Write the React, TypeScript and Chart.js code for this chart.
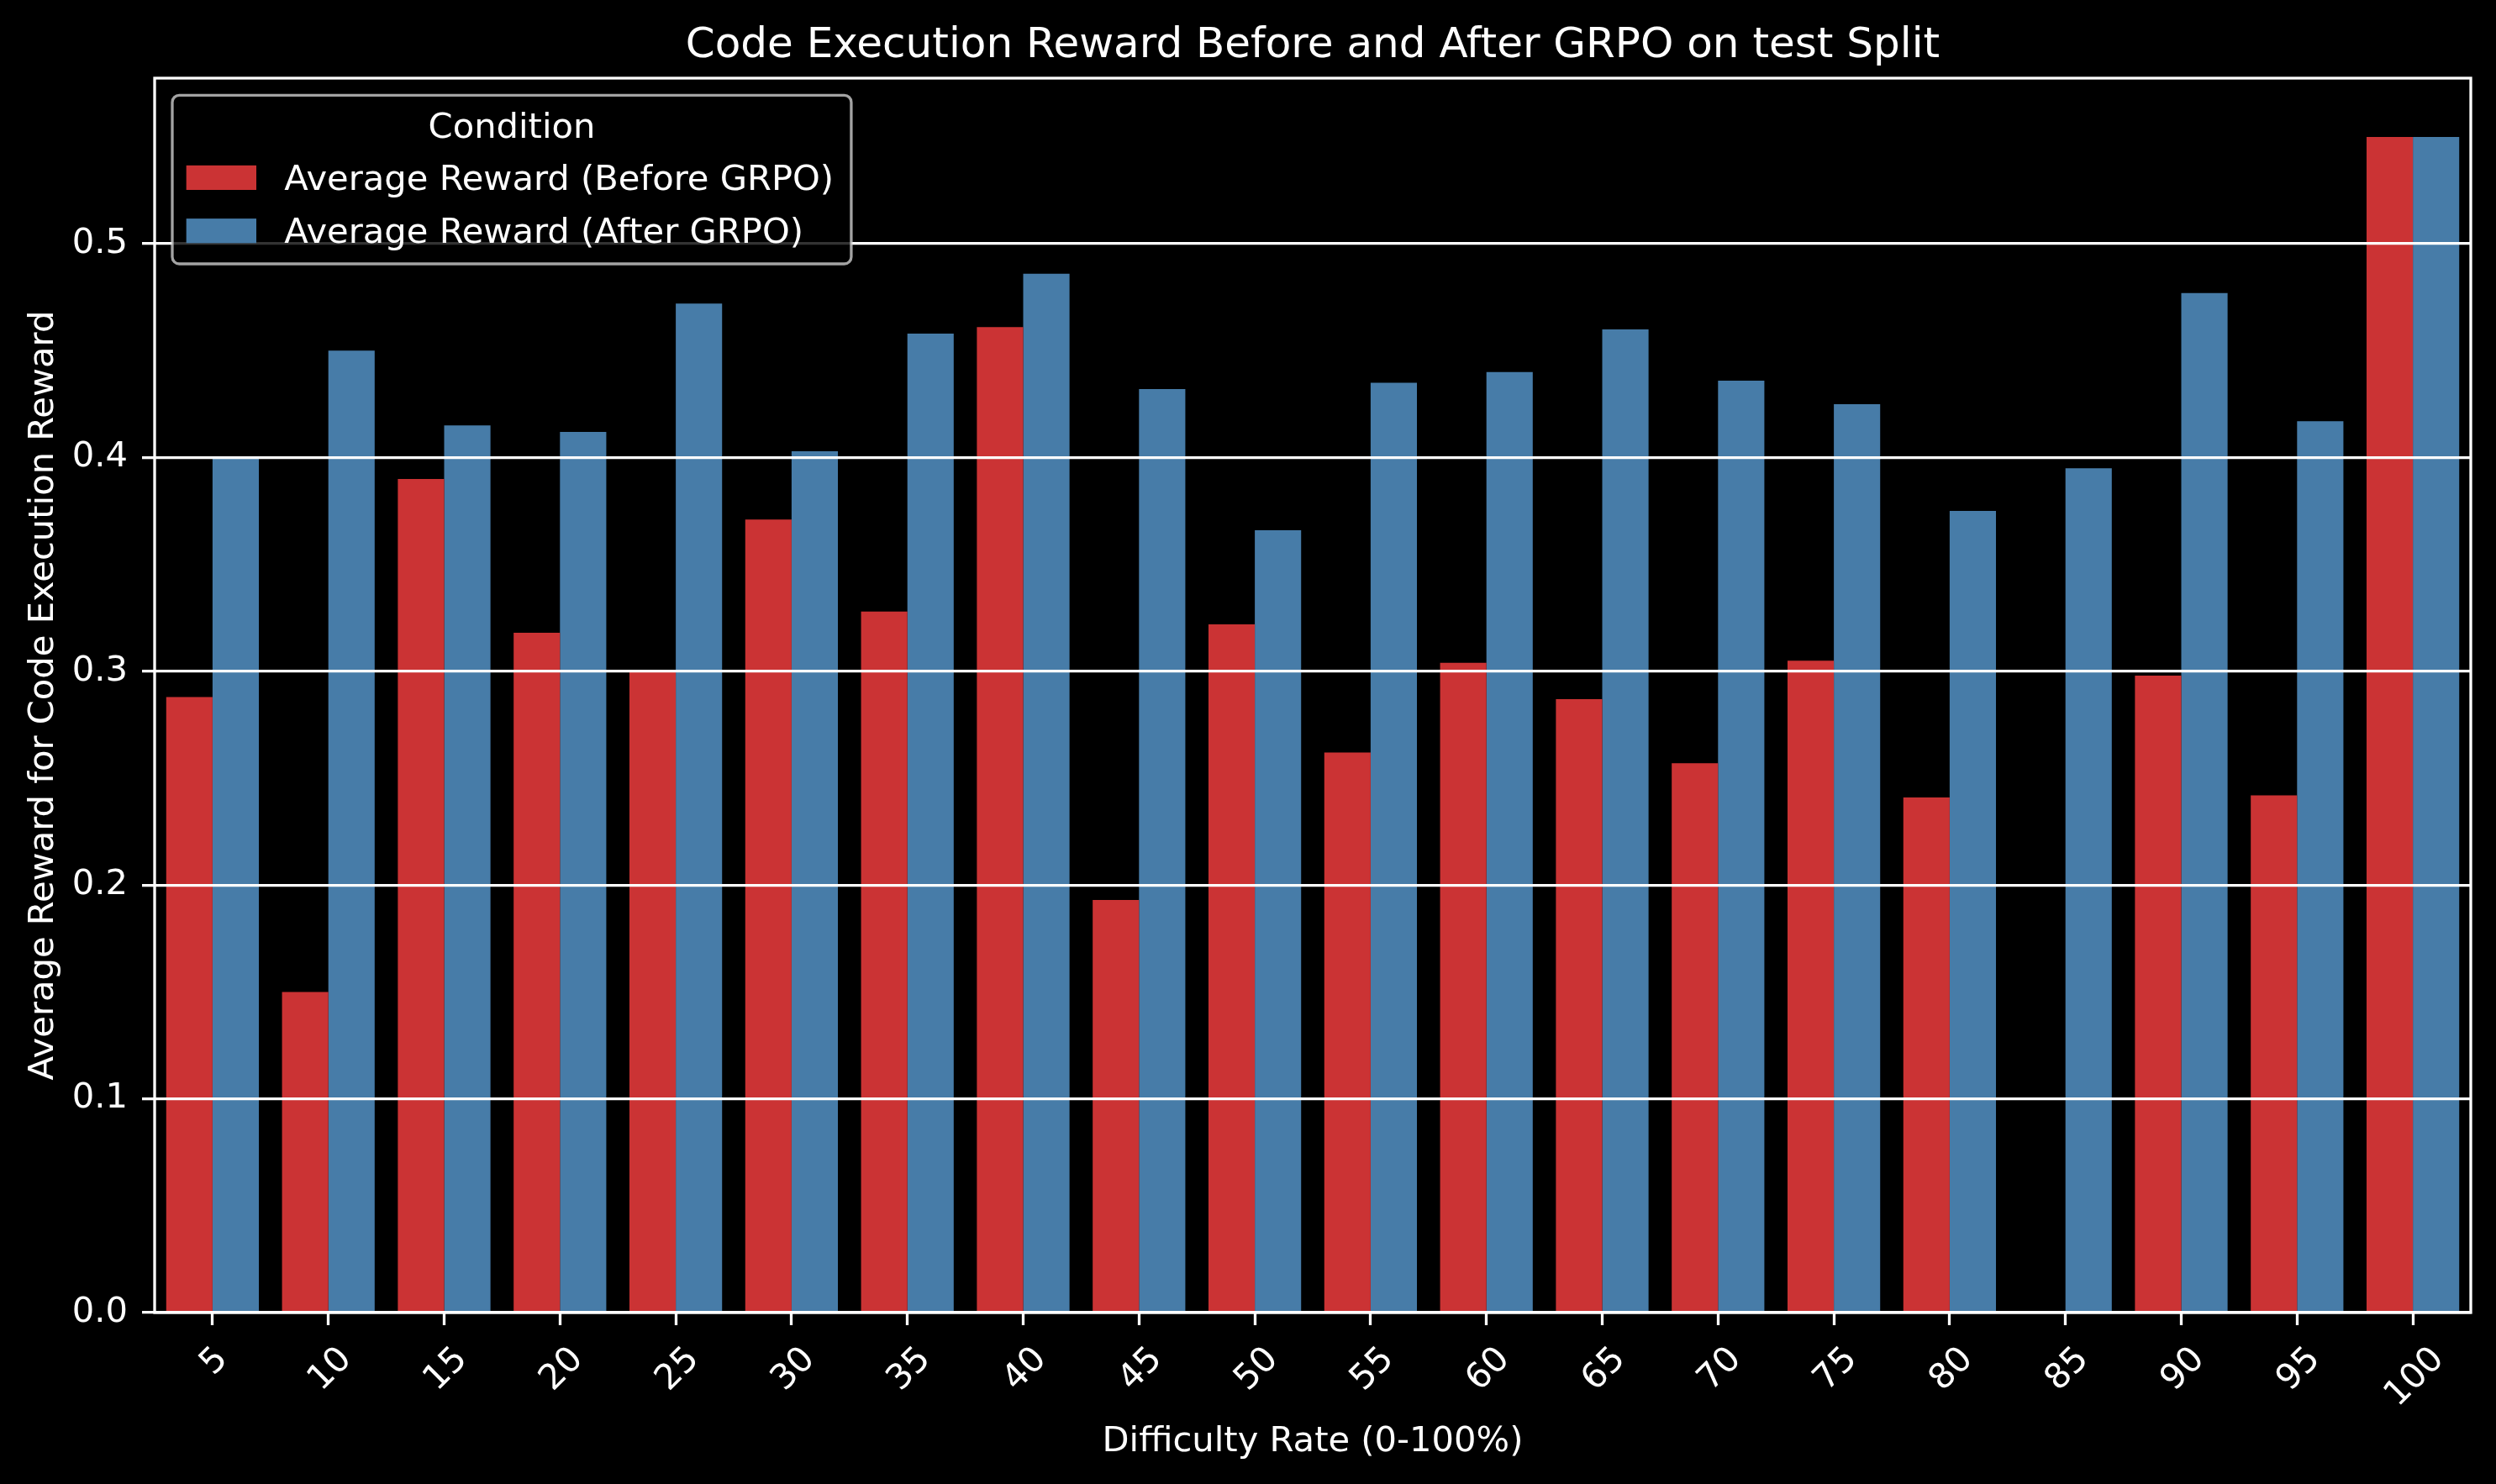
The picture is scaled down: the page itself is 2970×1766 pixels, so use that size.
import React, { useEffect, useRef } from 'react';
import { Chart, registerables } from 'chart.js';

Chart.register(...registerables);

// ---------- data ----------
const categories = ['5', '10', '15', '20', '25', '30', '35', '40', '45', '50', '55', '60', '65', '70', '75', '80', '85', '90', '95', '100'];
const beforeGRPO = [0.288, 0.150, 0.390, 0.318, 0.300, 0.371, 0.328, 0.461, 0.193, 0.322, 0.262, 0.304, 0.287, 0.257, 0.305, 0.241, null, 0.298, 0.242, 0.550];
const afterGRPO = [0.400, 0.450, 0.415, 0.412, 0.472, 0.403, 0.458, 0.486, 0.432, 0.366, 0.435, 0.440, 0.460, 0.436, 0.425, 0.375, 0.395, 0.477, 0.417, 0.550];
const yTicks = [0, 0.1, 0.2, 0.3, 0.4, 0.5];
const seriesNames = ['Average Reward (Before GRPO)', 'Average Reward (After GRPO)'];
const seriesColors = ['#cb3334', '#477ca8'];
const chartTitle = 'Code Execution Reward Before and After GRPO on test Split';
const xTitle = 'Difficulty Rate (0-100%)';
const yTitle = 'Average Reward for Code Execution Reward';
const legendTitle = 'Condition';

// ---------- style ----------
const FAMILY = '"DejaVu Sans", "Liberation Sans", sans-serif';
const FS = 41.67;
const TITLE_FS = 50;
const LW = 3.3;
const TICK_LEN = 15;
const W = 2970;
const H = 1766;

const decorPlugin = {
  id: 'decor',
  beforeDraw(chart: any) {
    const ctx = chart.ctx;
    ctx.save();
    ctx.fillStyle = '#000';
    ctx.fillRect(0, 0, chart.width, chart.height);
    ctx.restore();
  },
  afterDraw(chart: any) {
    const ctx = chart.ctx as CanvasRenderingContext2D;
    const ca = chart.chartArea;
    const xs = chart.scales.x;
    ctx.save();

    // spines
    ctx.strokeStyle = '#fff';
    ctx.lineWidth = LW;
    ctx.strokeRect(ca.left, ca.top, ca.right - ca.left, ca.bottom - ca.top);

    // x tick labels, rotated 45 degrees, centred on the tick (matplotlib style)
    ctx.fillStyle = '#fff';
    ctx.font = `${FS}px ${FAMILY}`;
    const tickEnd = ca.bottom + TICK_LEN + 14.6;
    categories.forEach((lab, i) => {
      const x = xs.getPixelForTick(i);
      const w = ctx.measureText(lab).width;
      const h = FS * 1.164;
      const cy = tickEnd + (w + h) / (2 * Math.SQRT2);
      ctx.save();
      ctx.translate(x, cy);
      ctx.rotate(-Math.PI / 4);
      ctx.textAlign = 'center';
      ctx.textBaseline = 'alphabetic';
      ctx.fillText(lab, 0, 0.35 * FS);
      ctx.restore();
    });

    const cx = (ca.left + ca.right) / 2;
    const cyMid = (ca.top + ca.bottom) / 2;

    // title
    ctx.textAlign = 'center';
    ctx.textBaseline = 'alphabetic';
    ctx.font = `${TITLE_FS}px ${FAMILY}`;
    ctx.fillText(chartTitle, cx, ca.top - 24.7);

    // x title
    ctx.font = `${FS}px ${FAMILY}`;
    ctx.fillText(xTitle, cx, ca.bottom + 164.7);

    // y title
    ctx.save();
    ctx.translate(63.3, cyMid);
    ctx.rotate(-Math.PI / 2);
    ctx.fillText(yTitle, 0, 0);
    ctx.restore();

    // legend
    const ds = chart.data.datasets;
    ctx.font = `${FS}px ${FAMILY}`;
    let maxW = 0;
    ds.forEach((d: any) => { maxW = Math.max(maxW, ctx.measureText(d.label).width); });
    const bx = ca.left + 21;
    const by = ca.top + 20.3;
    const bw = 0.4 * FS + 2 * FS + 0.8 * FS + maxW + 0.5 * FS;
    const bh = 200.7;
    const r = 0.2 * FS;
    ctx.beginPath();
    ctx.moveTo(bx + r, by);
    ctx.lineTo(bx + bw - r, by);
    ctx.arcTo(bx + bw, by, bx + bw, by + r, r);
    ctx.lineTo(bx + bw, by + bh - r);
    ctx.arcTo(bx + bw, by + bh, bx + bw - r, by + bh, r);
    ctx.lineTo(bx + r, by + bh);
    ctx.arcTo(bx, by + bh, bx, by + bh - r, r);
    ctx.lineTo(bx, by + r);
    ctx.arcTo(bx, by, bx + r, by, r);
    ctx.closePath();
    ctx.fillStyle = 'rgba(0,0,0,0.8)';
    ctx.fill();
    ctx.strokeStyle = 'rgba(204,204,204,0.8)';
    ctx.lineWidth = LW;
    ctx.stroke();

    ctx.fillStyle = '#fff';
    ctx.textAlign = 'center';
    ctx.fillText(legendTitle, bx + bw / 2, by + 50.7);
    ctx.textAlign = 'left';
    const rowBase = [by + 112.7, by + 176];
    ds.forEach((d: any, i: number) => {
      const base = rowBase[i];
      ctx.fillStyle = d.backgroundColor;
      ctx.fillRect(bx + 0.4 * FS, base - 0.7 * FS, 2 * FS, 0.7 * FS);
      ctx.fillStyle = '#fff';
      ctx.fillText(d.label, bx + 0.4 * FS + 2 * FS + 0.8 * FS, base);
    });

    ctx.restore();
  },
};

export default function App() {
  const ref = useRef<HTMLCanvasElement>(null);

  useEffect(() => {
    document.body.style.background = '#000';
    Chart.defaults.font.family = FAMILY;
    const chart = new Chart(ref.current as HTMLCanvasElement, {
      type: 'bar',
      data: {
        labels: categories,
        datasets: [
          { label: seriesNames[0], data: beforeGRPO, backgroundColor: seriesColors[0], borderWidth: 0, categoryPercentage: 0.8, barPercentage: 1.0 },
          { label: seriesNames[1], data: afterGRPO, backgroundColor: seriesColors[1], borderWidth: 0, categoryPercentage: 0.8, barPercentage: 1.0 },
        ],
      },
      options: {
        responsive: false,
        maintainAspectRatio: false,
        devicePixelRatio: 1,
        animation: false,
        layout: { padding: { top: 93, right: 30, left: 0, bottom: 0 } },
        plugins: {
          legend: { display: false },
          title: { display: false },
          tooltip: { enabled: false },
        },
        scales: {
          x: {
            type: 'category',
            offset: true,
            border: { display: false },
            grid: {
              display: true,
              drawOnChartArea: false,
              drawTicks: true,
              tickLength: TICK_LEN,
              tickWidth: LW,
              tickColor: '#fff',
              offset: false,
            },
            ticks: { display: false },
            afterFit: (s: any) => { s.height = 204; },
          },
          y: {
            type: 'linear',
            min: 0,
            max: 0.5775,
            border: { display: false },
            afterBuildTicks: (s: any) => { s.ticks = yTicks.map((v) => ({ value: v })); },
            grid: {
              color: '#fff',
              lineWidth: LW,
              z: 1,
              drawTicks: true,
              tickLength: TICK_LEN,
              tickWidth: LW,
              tickColor: '#fff',
            },
            ticks: {
              color: '#fff',
              font: { family: FAMILY, size: FS },
              padding: 17,
              callback: (v: any) => Number(v).toFixed(1),
            },
            afterFit: (s: any) => { s.width = 184; },
          },
        },
      } as any,
      plugins: [decorPlugin],
    });
    return () => chart.destroy();
  }, []);

  return (
    <div style={{ position: 'absolute', left: 0, top: 0, width: W, height: H, background: '#000', overflow: 'hidden' }}>
      <canvas ref={ref} width={W} height={H} style={{ display: 'block', width: W, height: H }} />
    </div>
  );
}
